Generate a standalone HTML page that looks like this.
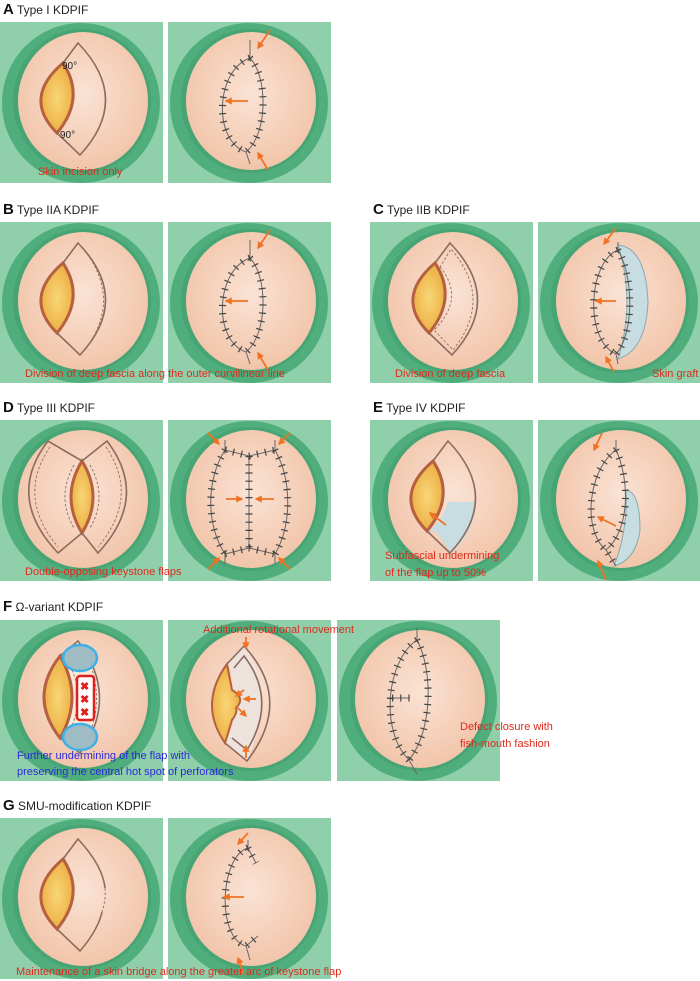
<!DOCTYPE html>
<html><head><meta charset="utf-8"><style>
html,body{margin:0;padding:0;background:#fff}
svg{display:block}
.lb{font-family:"Liberation Sans",sans-serif;font-size:12px;fill:#222}
.lb tspan.b{font-weight:bold;font-size:15px;fill:#111}
.rt{font-family:"Liberation Sans",sans-serif;font-size:11px;fill:#e02a1e}
.bt{font-family:"Liberation Sans",sans-serif;font-size:11px;fill:#2a2ad8}
.sut{fill:none;stroke:#666;stroke-width:1}
.tk{fill:none;stroke:#444;stroke-width:7;stroke-dasharray:1.2 7}
.fl{fill:none;stroke:#8d6b5e;stroke-width:1.6}
.ds{fill:none;stroke:#8d6b5e;stroke-width:0.9;stroke-dasharray:2.5 2}
.df{fill:url(#fat);stroke:#b5603f;stroke-width:3}
.ar{stroke:#f07222;stroke-width:1.8;fill:none;marker-end:url(#ah)}
</style></head><body>
<svg width="700" height="981" viewBox="0 0 700 981" xmlns="http://www.w3.org/2000/svg">
<defs>
<radialGradient id="sk" cx="0.5" cy="0.45" r="0.6"><stop offset="0" stop-color="#fae3d5"/><stop offset="1" stop-color="#f1c2a6"/></radialGradient>
<radialGradient id="fat" cx="0.5" cy="0.5" r="0.6"><stop offset="0" stop-color="#f8d777"/><stop offset="1" stop-color="#eba83c"/></radialGradient>
<marker id="ah" viewBox="0 0 10 10" refX="8" refY="5" markerWidth="4" markerHeight="4" orient="auto"><path d="M0,0 L10,5 L0,10 Z" fill="#f07222"/></marker>
<symbol id="base" viewBox="0 0 163 161" width="163" height="161">
<rect width="163" height="161" fill="#8fcfaa"/>
<ellipse cx="81" cy="81" rx="79" ry="80" fill="#4fae7c"/>
<ellipse cx="82" cy="79" rx="69" ry="72" fill="#3f9a6c" opacity="0.5"/>
<ellipse cx="83" cy="79" rx="65" ry="69" fill="url(#sk)"/>
</symbol>
</defs>

<text class="lb" x="3" y="14"><tspan class="b">A</tspan> Type I KDPIF</text>
<text class="lb" x="3" y="214"><tspan class="b">B</tspan> Type IIA KDPIF</text>
<text class="lb" x="373" y="214"><tspan class="b">C</tspan> Type IIB KDPIF</text>
<text class="lb" x="3" y="412"><tspan class="b">D</tspan> Type III KDPIF</text>
<text class="lb" x="373" y="412"><tspan class="b">E</tspan> Type IV KDPIF</text>
<text class="lb" x="3" y="611"><tspan class="b">F</tspan> Ω-variant KDPIF</text>
<text class="lb" x="3" y="810"><tspan class="b">G</tspan> SMU-modification KDPIF</text>

<g transform="translate(0,22)"><use href="#base"/>
<path class="df" d="M63,41 Q22,76 57,111 Q86,76 63,41Z"/>
<path class="fl" d="M63,41 L78,21 Q132,77 80,133 L57,111"/>
<text x="62" y="47" font-family="Liberation Sans" font-size="10" fill="#222">90°</text>
<text x="60" y="116" font-family="Liberation Sans" font-size="10" fill="#222">90°</text>
<text class="rt" x="38" y="153">Skin incision only</text></g>
<g transform="translate(168,22)"><use href="#base"/>
<g id="closeA"><path class="sut" d="M82,18 L82,36 C48,48 44,118 78,130 L82,142 M82,36 C100,55 100,112 78,130"/>
<path class="tk" d="M82,36 C48,48 44,118 78,130 M82,36 C100,55 100,112 78,130"/></g>
<path class="ar" d="M102,8 L90,26"/><path class="ar" d="M80,79 L58,79"/><path class="ar" d="M100,148 L90,131"/></g>

<g transform="translate(0,222)"><use href="#base"/>
<path class="df" d="M63,41 Q22,76 57,111 Q86,76 63,41Z"/>
<path class="fl" d="M63,41 L78,21 Q132,77 80,133 L57,111"/>
<path class="ds" d="M82,25 Q124,77 84,129"/></g>
<g transform="translate(168,222)"><use href="#base"/><use href="#closeA"/>
<path class="ar" d="M102,8 L90,26"/><path class="ar" d="M80,79 L58,79"/><path class="ar" d="M100,148 L90,131"/></g>
<text class="rt" x="25" y="377">Division of deep fascia along the outer curvilinear line</text>

<g transform="translate(370,222)"><use href="#base"/>
<path class="df" d="M65,41 Q24,76 59,111 Q88,76 65,41Z"/>
<path class="fl" d="M65,41 L80,21 Q134,77 82,133 L59,111"/>
<path class="ds" d="M70,45 Q96,76 64,108 L83,128 Q124,77 81,27Z"/></g>
<g transform="translate(538,222)"><use href="#base"/>
<path d="M80,23 Q108,26 110,80 Q108,128 80,137 Q98,80 80,23Z" fill="#c8dde2" stroke="#8aa" stroke-width="1"/>
<path class="sut" d="M80,20 L80,28 C50,40 46,118 78,132 L80,142 M80,28 C96,55 96,112 78,132"/>
<path class="tk" d="M80,28 C50,40 46,118 78,132 M80,28 C96,55 96,112 78,132"/>
<path class="ar" d="M78,6 L66,22"/><path class="ar" d="M78,79 L58,79"/><path class="ar" d="M76,150 L68,135"/></g>
<text class="rt" x="395" y="377">Division of deep fascia</text>
<text class="rt" x="652" y="377">Skin graft</text>

<g transform="translate(0,420)"><use href="#base"/>
<path class="df" d="M82,41 Q60,77 82,113 Q104,77 82,41Z"/>
<path class="fl" d="M82,41 L48,21 Q5,77 58,133 L82,113 M82,41 L107,21 Q150,77 98,133 L82,113"/>
<path class="ds" d="M50,27 Q16,77 58,127 M74,45 Q56,77 74,108 M106,27 Q140,77 98,127 M90,45 Q108,77 90,108"/></g>
<g transform="translate(168,420)"><use href="#base"/>
<path class="sut" d="M57,20 L57,30 L81,36 L107,30 L107,20 M81,36 L81,128 M57,134 L57,144 M107,134 L107,144 M57,30 C38,60 38,105 57,134 L81,128 L107,134 C124,105 124,60 107,30"/>
<path class="tk" d="M57,30 L81,36 L107,30 M81,36 L81,128 M57,134 L81,128 L107,134 M57,30 C38,60 38,105 57,134 M107,30 C124,60 124,105 107,134"/>
<path class="ar" d="M40,13 L51,24"/><path class="ar" d="M122,13 L111,24"/><path class="ar" d="M58,79 L74,79"/><path class="ar" d="M106,79 L88,79"/><path class="ar" d="M40,149 L51,138"/><path class="ar" d="M122,149 L111,138"/></g>
<text class="rt" x="25" y="575">Double-opposing keystone flaps</text>

<g transform="translate(370,420)"><use href="#base"/>
<path d="M65,111 L82,133 Q104,112 106,82 L78,82 Q74,98 59,111Z" fill="#c8dde2"/>
<path class="df" d="M63,41 Q22,76 57,111 Q86,76 63,41Z"/>
<path class="fl" d="M63,41 L78,21 Q132,77 80,133 L57,111"/>
<path class="ar" d="M76,105 L60,93"/>
<text class="rt" x="15" y="139">Subfascial undermining</text>
<text class="rt" x="15" y="156">of the flap up to 50%</text></g>
<g transform="translate(538,420)"><use href="#base"/>
<path d="M88,70 Q102,72 102,110 Q98,140 76,146 Q90,110 88,70Z" fill="#c8dde2" stroke="#8aa" stroke-width="1"/>
<path class="sut" d="M78,20 L78,30 C50,50 44,110 68,130 L78,146 M78,30 C92,60 92,110 68,130"/>
<path class="tk" d="M78,30 C50,50 44,110 68,130 L78,146 M78,30 C92,60 92,110 68,130"/>
<path class="ar" d="M64,13 L56,30"/><path class="ar" d="M78,106 L60,97"/><path class="ar" d="M68,160 L60,141"/></g>

<g transform="translate(0,620)"><use href="#base"/>
<path d="M60,36 L78,21 Q120,77 80,133 L60,118 Q84,77 60,36Z" fill="#fae8da"/>
<path class="df" d="M60,36 Q28,77 60,118 Q84,77 60,36Z"/>
<path class="fl" d="M60,36 L78,21 Q120,77 80,133 L60,118"/>
<path class="ds" d="M82,26 Q110,77 84,126 M70,46 Q86,77 70,110"/>
<ellipse cx="80" cy="38" rx="17" ry="13" fill="#9fbcc4" stroke="#3db0e8" stroke-width="2.5"/>
<ellipse cx="80" cy="117" rx="17" ry="13" fill="#9fbcc4" stroke="#3db0e8" stroke-width="2.5"/>
<rect x="77" y="56" width="17" height="44" rx="3" fill="#fff" stroke="#e0201c" stroke-width="2.5"/>
<text x="80" y="70" font-family="Liberation Sans" font-weight="bold" font-size="11" fill="#e0201c">✖</text>
<text x="80" y="83" font-family="Liberation Sans" font-weight="bold" font-size="11" fill="#e0201c">✖</text>
<text x="80" y="96" font-family="Liberation Sans" font-weight="bold" font-size="11" fill="#e0201c">✖</text></g>
<g transform="translate(168,620)"><use href="#base"/>
<path d="M59,44 L76,26 Q110,70 79,141 L57,123 Q70,100 64,88 Q78,78 64,70 Q68,55 59,44Z" fill="#eee3dc"/>
<path d="M59,44 Q30,84 57,123 L64,100 Q70,92 68,88 Q78,78 64,70 Z" fill="url(#fat)" stroke="#b5603f" stroke-width="2"/>
<path class="fl" d="M59,44 L76,26 Q126,80 79,141 L57,123"/>
<path class="fl" d="M66,48 L76,36 Q110,80 79,130 L64,118"/>
<path class="ar" d="M76,70 L68,76"/><path class="ar" d="M88,79 L76,79"/><path class="ar" d="M70,88 L78,96"/><path class="ar" d="M78,17 L78,28"/><path class="ar" d="M78,138 L78,126"/></g>
<g transform="translate(337,620)"><use href="#base"/>
<path class="sut" d="M80,8 L80,20 C50,40 42,110 72,140 L80,154 M80,20 C96,50 96,110 72,140 M52,78 L72,78"/>
<path class="tk" d="M80,20 C50,40 42,110 72,140 M80,20 C96,50 96,110 72,140 M55,78 L74,78"/>
<text class="rt" x="123" y="110">Defect closure with</text>
<text class="rt" x="123" y="127">fish-mouth fashion</text></g>
<text class="rt" x="203" y="633">Additional rotational movement</text>
<text class="bt" x="17" y="759">Further undermining of the flap with</text>
<text class="bt" x="17" y="775">preserving the central hot spot of perforators</text>

<g transform="translate(0,818)"><use href="#base"/>
<path class="df" d="M63,41 Q22,76 57,111 Q86,76 63,41Z"/>
<path class="fl" d="M63,41 L78,21 Q103,48 105,70 M57,111 L80,133 Q98,112 102,94"/>
<path class="ds" d="M105,70 Q106,82 102,94"/></g>
<g transform="translate(168,818)"><use href="#base"/>
<path class="sut" d="M80,22 L80,30 L88,45 M80,30 C52,38 48,120 78,128 L82,142 M78,128 L90,118"/>
<path class="tk" d="M80,30 L88,45 M80,30 C52,38 48,120 78,128 L90,118"/>
<path class="ar" d="M80,15 L70,26"/><path class="ar" d="M76,79 L56,79"/><path class="ar" d="M76,157 L70,140"/></g>
<text class="rt" x="16" y="975">Maintenance of a skin bridge along the greater arc of keystone flap</text>
</svg>
</body></html>
